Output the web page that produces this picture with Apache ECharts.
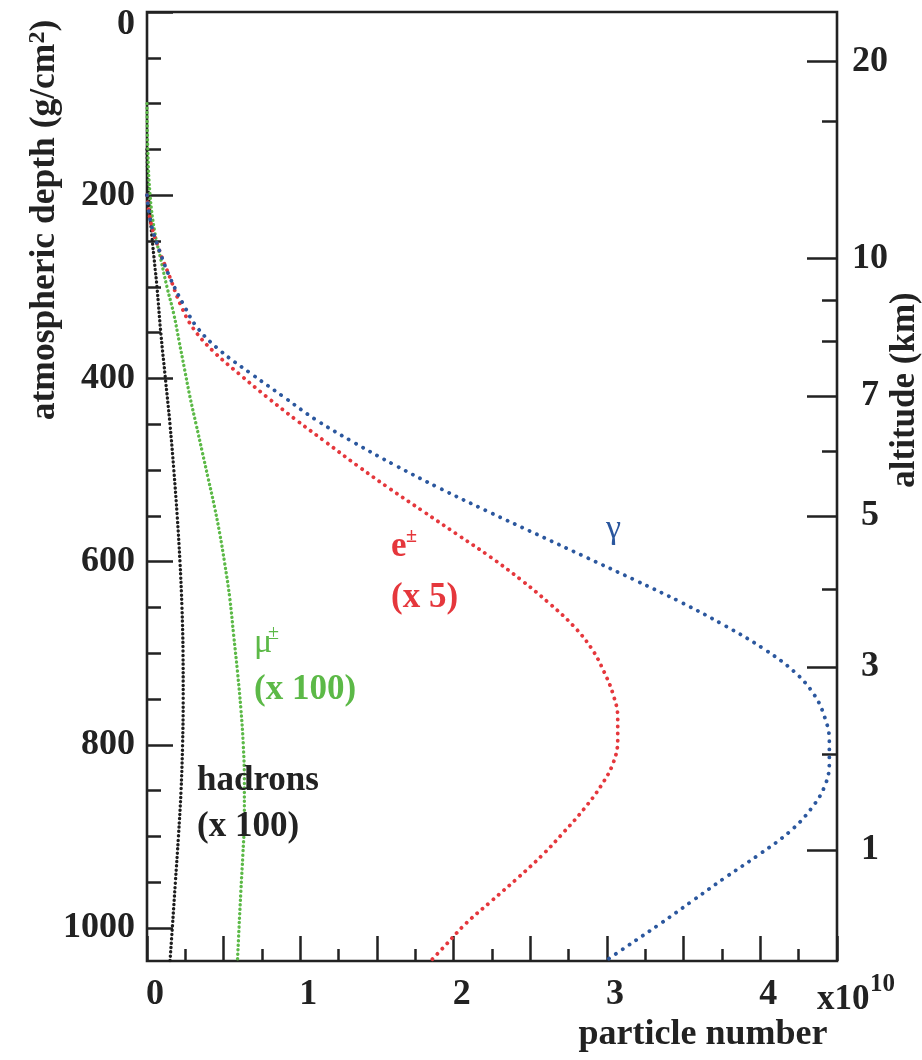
<!DOCTYPE html>
<html>
<head>
<meta charset="utf-8">
<script src="https://cdn.jsdelivr.net/npm/echarts@6/dist/echarts.min.js"></script>
<style>
html,body{margin:0;padding:0;background:#fff;}
#chart{width:922px;height:1060px;}
</style>
</head>
<body>
<div id="chart"></div>
<script>
// ---- data ----
// depth in g/cm^2, particle number in units of 1e10
const gammaDepth = [200, 230, 260, 290, 320, 345, 370, 395, 420, 445, 470, 495, 520, 545, 570, 595, 620, 645, 670, 695, 720, 745, 770, 795, 820, 845, 870, 895, 920, 945, 970, 995, 1020, 1036];
const gammaValue = [0, 0.025, 0.08, 0.15, 0.24, 0.33, 0.48, 0.68, 0.89, 1.10, 1.35, 1.62, 1.91, 2.22, 2.54, 2.86, 3.18, 3.49, 3.77, 4.02, 4.22, 4.35, 4.42, 4.45, 4.45, 4.42, 4.33, 4.19, 3.99, 3.77, 3.56, 3.35, 3.13, 2.99];

const electronDepth = [200, 230, 260, 290, 320, 345, 370, 395, 420, 445, 470, 495, 520, 545, 570, 595, 620, 645, 670, 695, 720, 745, 770, 795, 820, 845, 870, 895, 920, 945, 970, 995, 1020, 1036];
const electronValue = [0, 0.025, 0.08, 0.15, 0.22, 0.30, 0.43, 0.60, 0.78, 0.97, 1.17, 1.37, 1.58, 1.80, 2.02, 2.24, 2.44, 2.62, 2.78, 2.90, 2.98, 3.04, 3.07, 3.07, 3.04, 2.96, 2.85, 2.72, 2.58, 2.42, 2.25, 2.08, 1.94, 1.85];

const muonDepth = [100, 150, 200, 240, 270, 300, 330, 360, 390, 420, 450, 480, 510, 540, 570, 600, 640, 680, 720, 760, 800, 840, 880, 920, 960, 1000, 1036];
const muonValue = [0, 0.005, 0.02, 0.05, 0.09, 0.13, 0.175, 0.21, 0.245, 0.28, 0.32, 0.36, 0.40, 0.44, 0.475, 0.505, 0.54, 0.565, 0.59, 0.612, 0.628, 0.635, 0.635, 0.625, 0.612, 0.60, 0.59];

const hadronDepth = [150, 200, 250, 300, 350, 400, 450, 500, 550, 600, 650, 700, 750, 800, 850, 900, 950, 1000, 1036];
const hadronValue = [0, 0.01, 0.035, 0.065, 0.09, 0.12, 0.15, 0.175, 0.197, 0.215, 0.228, 0.235, 0.236, 0.232, 0.222, 0.205, 0.185, 0.165, 0.15];

// axis ticks
const xLabels = [0, 1, 2, 3, 4];
const depthMajor = [0, 200, 400, 600, 800, 1000];
const depthMinor = [50, 100, 150, 250, 300, 350, 450, 500, 550, 650, 700, 750, 850, 900, 950];
const altMajorLabels = [20, 10, 7, 5, 3, 1];
const altMajorDepths = [54, 269, 419, 550, 715, 915];
const altMinorLabels = [15, 9, 8, 6, 4, 2];
const altMinorDepths = [119, 315, 359, 480, 630, 810];

// ---- chart ----
const FONT = "'Liberation Serif', 'Times New Roman', serif";
const INK = '#222';
const DEPTH_MAX = 1036;
const X_MAX = 4.5;

function pairs(vals, depths) { return vals.map((v, i) => [v, depths[i]]); }

const tickStyle = { color: INK, width: 2.5 };
const labelBase = { fontFamily: FONT, fontWeight: 'bold', fontSize: 36, color: INK };

function depthAxis(extra) {
  return Object.assign({
    type: 'value', min: 0, max: DEPTH_MAX, inverse: true,
    axisLine: { show: false, onZero: false },
    splitLine: { show: false },
    minorTick: { show: false },
    minorSplitLine: { show: false }
  }, extra);
}

const chart = echarts.init(document.getElementById('chart'), null, { renderer: 'canvas' });

const series = [
  { name: 'hadrons', data: pairs(hadronValue, hadronDepth), color: '#1e1e1e', dash: [0.1, 4.2], width: 3.4 },
  { name: 'mu', data: pairs(muonValue, muonDepth), color: '#5cb947', dash: [0.1, 4.4], width: 3.4 },
  { name: 'e', data: pairs(electronValue, electronDepth), color: '#e5373c', dash: [0.1, 7], width: 3.8 },
  { name: 'gamma', data: pairs(gammaValue, gammaDepth), color: '#2b579e', dash: [0.1, 8], width: 3.8 }
].map(s => ({
  type: 'line', name: s.name, data: s.data, xAxisIndex: 0, yAxisIndex: 0,
  showSymbol: false, symbol: 'none', smooth: 0.4,
  lineStyle: { color: s.color, width: s.width, type: s.dash, cap: 'round' },
  silent: true, z: 3
}));

function txt(text, x, y, opts) {
  const st = Object.assign({
    text: text, fontFamily: FONT, fontWeight: 'bold', fontSize: 35, fill: INK,
    align: 'left', verticalAlign: 'middle', textAlign: 'left', textVerticalAlign: 'middle'
  }, opts || {});
  if (st.align) st.textAlign = st.align;
  if (st.verticalAlign) st.textVerticalAlign = st.verticalAlign;
  return { type: 'text', x: x, y: y, style: st, z: 10 };
}

const graphics = [
  // left axis title (rotated)
  { type: 'text', x: 45, y: 220, rotation: Math.PI / 2, z: 10,
    style: { text: 'atmospheric depth (g/cm{sup|2})', fontFamily: FONT, fontWeight: 'bold', fontSize: 35.5, fill: INK,
      align: 'center', verticalAlign: 'middle', textAlign: 'center', textVerticalAlign: 'middle',
      rich: { sup: { fontFamily: FONT, fontWeight: 'bold', fontSize: 24, fill: INK, verticalAlign: 'top', padding: [0, 0, 14, 0] } } } },
  // right axis title
  { type: 'text', x: 905, y: 390, rotation: Math.PI / 2, z: 10,
    style: { text: 'altitude (km)', fontFamily: FONT, fontWeight: 'bold', fontSize: 35, fill: INK,
      align: 'center', verticalAlign: 'middle', textAlign: 'center', textVerticalAlign: 'middle' } },
  // x axis title and multiplier
  txt('particle number', 703, 1035, { align: 'center', fontSize: 36 }),
  txt('x10', 817, 1000, { fontSize: 35 }),
  txt('10', 870, 985, { fontSize: 25 }),
  // series labels
  txt('\u03b3', 606, 529, { fontWeight: 'normal', fontSize: 34, fill: '#2b579e' }),
  txt('e', 391, 547, { fontSize: 35, fill: '#e5373c' }),
  txt('\u00b1', 406, 537, { fontSize: 20, fill: '#e5373c' }),
  txt('(x 5)', 391, 598, { fontSize: 35, fill: '#e5373c' }),
  txt('\u03bc', 254, 643, { fontWeight: 'normal', fontSize: 34, fill: '#5cb947' }),
  txt('\u00b1', 268, 634, { fontWeight: 'normal', fontSize: 20, fill: '#5cb947' }),
  txt('(x 100)', 254, 690, { fontSize: 35, fill: '#5cb947' }),
  txt('hadrons', 197, 781, { fontSize: 35 }),
  txt('(x 100)', 197, 827, { fontSize: 35 })
];

const option = {
  animation: false,
  backgroundColor: '#fff',
  grid: { left: 147, right: 85, top: 12, bottom: 99, show: true, borderColor: INK, borderWidth: 2.6, backgroundColor: 'transparent' },
  xAxis: [{
    type: 'value', min: 0, max: X_MAX, interval: 0.5, position: 'bottom',
    axisLine: { show: false, onZero: false },
    axisTick: { show: true, inside: true, length: 25, lineStyle: tickStyle },
    minorTick: { show: true, splitNumber: 2, length: 12, lineStyle: tickStyle },
    splitLine: { show: false }, minorSplitLine: { show: false },
    axisLabel: Object.assign({}, labelBase, {
      customValues: xLabels,
      margin: 16, padding: [0, 0, 0, 16],
      formatter: v => String(v)
    })
  }],
  yAxis: [
    depthAxis({
      position: 'left',
      axisTick: { show: true, inside: true, length: 26, lineStyle: tickStyle, customValues: depthMajor },
      axisLabel: Object.assign({}, labelBase, {
        customValues: depthMajor, margin: 12,
        formatter: v => (v === 0 ? '{z|0}' : String(v)),
        rich: { z: Object.assign({}, labelBase, { padding: [25, 0, 0, 0] }) }
      })
    }),
    depthAxis({
      position: 'left',
      axisTick: { show: true, inside: true, length: 14, lineStyle: tickStyle, customValues: depthMinor },
      axisLabel: { show: false }
    }),
    depthAxis({
      position: 'right',
      axisTick: { show: true, inside: true, length: 30, lineStyle: tickStyle, customValues: altMajorDepths },
      axisLabel: Object.assign({}, labelBase, {
        customValues: altMajorDepths, margin: 33, align: 'center',
        formatter: v => { const i = altMajorDepths.indexOf(v); return i >= 0 ? String(altMajorLabels[i]) : ''; }
      })
    }),
    depthAxis({
      position: 'right',
      axisTick: { show: true, inside: true, length: 15, lineStyle: tickStyle, customValues: altMinorDepths },
      axisLabel: { show: false }
    })
  ],
  series: series,
  graphic: graphics
};

chart.setOption(option);
</script>
</body>
</html>
